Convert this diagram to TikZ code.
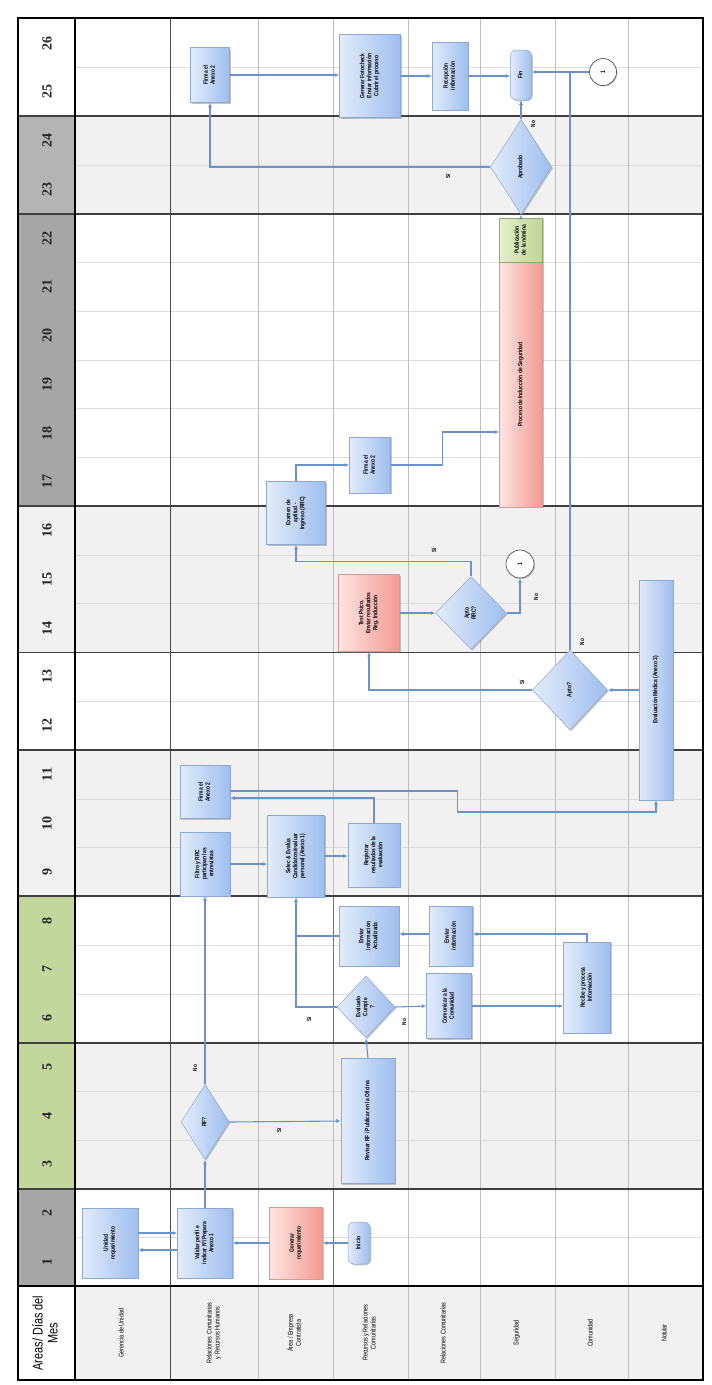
\documentclass[tikz,border=0pt]{standalone}
\usepackage{graphicx}
\usepackage{fontspec}
\setmainfont{Liberation Sans}
\newfontfamily\narrowfont[FakeStretch=0.78]{Liberation Sans}
\newfontfamily\numfont{Liberation Serif}
\usetikzlibrary{shapes.geometric,arrows.meta,shadows,calc}

\definecolor{bluel}{HTML}{E2ECFB}
\definecolor{blued}{HTML}{9FBEEE}
\definecolor{boxline}{HTML}{8EA9D1}
\definecolor{redl}{HTML}{FDE4E0}
\definecolor{redd}{HTML}{F29A93}
\definecolor{redline}{HTML}{D79A94}
\definecolor{grnl}{HTML}{E6F0CB}
\definecolor{grnd}{HTML}{BFD495}
\definecolor{grnline}{HTML}{93A86A}
\definecolor{linec}{HTML}{6B93C9}
\definecolor{bandgray}{HTML}{F1F1F1}
\definecolor{daygray}{HTML}{A6A6A6}
\definecolor{daygray2}{HTML}{B4B4B4}
\definecolor{daygreen}{HTML}{C3D69B}
\definecolor{gridc}{HTML}{DCDCDC}
\definecolor{lanec}{HTML}{BDBDBD}

% vertical (rotated) multi-line text
\newcommand{\vtxt}[1]{\rotatebox{90}{\begin{tabular}{@{}c@{}}#1\end{tabular}}}
% one band of days: header fill and lane fill
\newcommand{\dayband}[4]{%
  \fill[#3] (18,{1286.4-#2*48.76}) rectangle (75,{1286.4-#1*48.76});
  \fill[#4] (75,{1286.4-#2*48.76}) rectangle (703,{1286.4-#1*48.76});}

\tikzset{
  box/.style={draw=boxline, line width=0.5pt, left color=bluel, right color=blued,
    drop shadow={shadow xshift=1.3pt, shadow yshift=-1.3pt, fill=black!50, opacity=0.45},
    inner sep=1pt, font=\narrowfont\bfseries\fontsize{6.3}{7}\selectfont},
  redbox/.style={box, draw=redline, left color=redl, right color=redd},
  grnbox/.style={box, draw=grnline, left color=grnl, right color=grnd},
  dec/.style={diamond, box, aspect=1, inner sep=0pt},
  term/.style={box, rounded corners=6pt},
  conn/.style={circle, draw=black!75, line width=0.6pt, fill=white, inner sep=0pt,
    drop shadow={shadow xshift=1pt, shadow yshift=-1pt, fill=black!50, opacity=0.4},
    font=\narrowfont\bfseries\fontsize{6.5}{6.5}\selectfont},
  flow/.style={draw=linec, line width=1.1pt},
  arr/.style={flow, -{Latex[length=4.5pt,width=4pt]}},
  yn/.style={inner sep=0pt, font=\narrowfont\bfseries\fontsize{6}{6}\selectfont},
  lanelbl/.style={inner sep=0pt, font=\narrowfont\fontsize{7}{8}\selectfont},
  daynum/.style={inner sep=0pt, font=\numfont\bfseries\fontsize{14}{14}\selectfont, text=black!85},
}

\begin{document}
\begin{tikzpicture}[x=1pt,y=-1pt]
\useasboundingbox (0,0) rectangle (712,1385);
\fill[white] (0,0) rectangle (712,1385);

% ---- day bands ----
\dayband{0}{2}{daygray}{white}
\dayband{2}{5}{daygreen}{bandgray}
\dayband{5}{8}{daygreen}{white}
\dayband{8}{11}{bandgray}{bandgray}
\dayband{11}{13}{white}{white}
\dayband{13}{16}{bandgray}{bandgray}
\dayband{16}{22}{daygray}{white}
\dayband{22}{24}{daygray2}{bandgray}
\dayband{24}{26}{white}{white}

% header row with the areas
\fill[white] (18,1286.4) rectangle (75,1380);
\fill[bandgray] (75,1286.4) rectangle (703,1380);

% faint grid of days
\foreach \k in {1,...,25}
  \draw[gridc, line width=0.6pt] (75,{1286.4-\k*48.76}) -- (703,{1286.4-\k*48.76});

% lane separators
\foreach \xx in {258,333,408,480,555,628}
  \draw[lanec, line width=0.7pt] (\xx,18) -- (\xx,1380);
\draw[black!70, line width=1pt] (170,18) -- (170,1380);
\draw[black!55, line width=1pt] (333,1188.9) -- (333,1286.4);
\draw[black!55, line width=1pt] (333,896.3) -- (333,1042.6);

% group separators
\foreach \k in {2,5,8,11,13,16,22,24}
  \draw[black!75, line width=1.8pt] (18,{1286.4-\k*48.76}) -- (703,{1286.4-\k*48.76});
\draw[black, line width=2pt] (18,1286.4) -- (703,1286.4);
\draw[black, line width=1.6pt] (75,18) -- (75,1380);

% outer frame
\draw[black, line width=2.8pt] (18,18) rectangle (703,1380);

% ---- day numbers ----
\foreach \k in {1,...,26}
  \node[daynum] (d\k) at (47,{1262-(\k-1)*48.76}) {\rotatebox{90}{\k}};

% ---- area headers ----
\node[inner sep=0pt, font=\narrowfont\fontsize{14}{15}\selectfont] (hdr) at (47,1333)
  {\vtxt{Areas/ Días del\\Mes}};
\node[lanelbl] (l1) at (122,1333) {\vtxt{Gerencia de Unidad}};
\node[lanelbl] (l2) at (214,1333) {\vtxt{Relaciones Comunitarias\\y Recursos Humanos}};
\node[lanelbl] (l3) at (295,1333) {\vtxt{Área / Empresa\\Contratista}};
\node[lanelbl] (l4) at (370,1333) {\vtxt{Recursos y Relaciones\\Comunitarias}};
\node[lanelbl] (l5) at (444,1333) {\vtxt{Relaciones Comunitarias}};
\node[lanelbl] (l6) at (517,1333) {\vtxt{Seguridad}};
\node[lanelbl] (l7) at (591,1333) {\vtxt{Comunidad}};
\node[lanelbl] (l8) at (665,1333) {\vtxt{Notular}};

% ---- days 1-2 ----
\node[box, minimum width=56pt, minimum height=70pt] (req) at (110,1243) {\vtxt{Unidad\\requerimiento}};
\node[box, minimum width=55pt, minimum height=70pt] (val) at (205,1243) {\vtxt{Validar perfil e\\indicar N°/Prepara\\Anexo 1}};
\node[redbox, minimum width=53pt, minimum height=72pt] (gen) at (296,1243) {\vtxt{Generar\\requerimiento}};
\node[term, minimum width=22pt, minimum height=42pt] (inicio) at (359,1243) {\vtxt{Inicio}};

% ---- days 3-5 ----
\node[dec, minimum width=48pt, minimum height=75pt] (rf) at (205,1122) {\vtxt{RF?}};
\node[box, minimum width=54pt, minimum height=125pt] (revisar) at (368,1121) {\vtxt{Revisar RF / Publicar en la Oficina}};

% ---- days 6-8 ----
\node[dec, minimum width=58pt, minimum height=62pt] (cumple) at (366,1007) {\vtxt{Evaluado\\Cumple\\?}};
\node[box, minimum width=45pt, minimum height=65pt] (comunicar) at (449,1006) {\vtxt{Comunicar a la\\Comunidad}};
\node[box, minimum width=47pt, minimum height=91pt] (recibe) at (587,987.5) {\vtxt{Recibe y procesa\\Información}};
\node[box, minimum width=43pt, minimum height=60pt] (enviar) at (451,936) {\vtxt{Enviar\\información}};
\node[box, minimum width=60pt, minimum height=60pt] (enviarAct) at (369,936) {\vtxt{Enviar\\información\\Actualizada}};

% ---- days 9-11 ----
\node[box, minimum width=50pt, minimum height=64pt] (filtro) at (205,864) {\vtxt{Filtro y RRC\\participan las\\entrevistas}};
\node[box, minimum width=57pt, minimum height=82pt] (sel) at (296,856) {\vtxt{Selec \& Evalúa\\Candidatos/evaluar\\personal (Anexo 1)}};
\node[box, minimum width=52pt, minimum height=64pt] (reg) at (374,855) {\vtxt{Registrar\\resultados de la\\evaluación}};
\node[box, minimum width=50pt, minimum height=53pt] (firma1) at (205,792) {\vtxt{Firma el\\Anexo 2}};

% ---- days 12-16 ----
\node[box, minimum width=34pt, minimum height=220pt] (eval) at (656,690) {\vtxt{Evaluación Médica (Anexo 3)}};
\node[dec, minimum width=75pt, minimum height=80pt] (apto) at (570,690) {\vtxt{Apto?}};
\node[redbox, minimum width=61pt, minimum height=77pt] (test) at (369,613) {\vtxt{Test Psico.\\Enviar resultados\\Reg. Inducción}};
\node[dec, minimum width=71pt, minimum height=73pt] (aptoRRC) at (471,613) {\vtxt{Apto\\RRC?}};
\node[conn, minimum size=28pt] (c1a) at (520,564) {\rotatebox{90}{1}};
\node[box, minimum width=59pt, minimum height=63pt] (examen) at (296,513) {\vtxt{Examen de\\aptitud -\\Ingreso (RRC)}};

% ---- days 17-22 ----
\node[box, minimum width=41pt, minimum height=56pt] (firma2) at (370,465) {\vtxt{Firma el\\Anexo 2}};
\node[redbox, minimum width=43pt, minimum height=245pt] (induccion) at (521,384.5) {\vtxt{Proceso de Inducción de Seguridad}};
\node[grnbox, minimum width=43pt, minimum height=44pt] (pub) at (521,240) {\vtxt{Publicación\\de la nómina}};

% ---- days 23-26 ----
\node[dec, minimum width=61pt, minimum height=95pt] (aprob) at (521,167) {\vtxt{Aprobado}};
\node[box, minimum width=39pt, minimum height=55pt] (firma3) at (210,75) {\vtxt{Firma el\\Anexo 2}};
\node[box, minimum width=61pt, minimum height=83pt] (genfot) at (370,76) {\vtxt{Generar Fotocheck\\Enviar información\\Cubrir el proceso}};
\node[box, minimum width=36pt, minimum height=68pt] (recep) at (450,76) {\vtxt{Recepción\\información}};
\node[term, minimum width=21pt, minimum height=50pt] (fin) at (521,75) {\vtxt{Fin}};
\node[conn, minimum size=27pt] (c1b) at (603,72) {\rotatebox{90}{1}};

% ---- connectors ----
\draw[arr] (inicio.west) -- (gen.east);
\draw[arr] (gen.west) -- (val.east);
\draw[arr] ($(req.east)+(0,-10)$) -- ($(val.west)+(0,-10)$);
\draw[arr] ($(val.west)+(0,7)$) -- ($(req.east)+(0,7)$);
\draw[arr] (val.north) -- (rf.south);
\draw[arr] (rf.east) -- (revisar.west);
\draw[arr] (rf.north) -- (filtro.south);
\draw[arr] (revisar.north) -- (cumple.south);
\draw[arr] (cumple.east) -- (comunicar.west);
\draw[arr] (comunicar.east) -- (recibe.west |- comunicar.east);
\draw[arr] (recibe.north) |- ($(enviar.east)+(0,-2)$);
\draw[arr] ($(enviar.west)+(0,-2)$) -- ($(enviarAct.east)+(0,-2)$);
\coordinate (jn) at (sel.south |- enviarAct.west);
\draw[flow] (enviarAct.west) -- (jn);
\draw[arr] (cumple.west) -| (sel.south);
\draw[arr] (filtro.east) -- (sel.west |- filtro.east);
\draw[arr] (sel.east) -- (reg.west |- sel.east);
\draw[arr] (reg.north) |- ($(firma1.east)+(0,6)$);
\draw[arr] ($(firma1.east)+(0,-1)$) -- ++(227,0) -- ++(0,21) -| (eval.south);
\draw[arr] (eval.west) -- (apto.east);
\draw[arr] (apto.west) -| (test.south);
\draw[flow] (apto.north) -- (apto.north |- c1b.west);
\draw[arr] (test.east) -- (aptoRRC.west);
\draw[arr] (aptoRRC.north) -- ++(0,-15) -| (examen.south);
\draw[arr] (aptoRRC.east) -| (c1a.south);
\draw[arr] (examen.north) |- (firma2.west);
\path (induccion.west) ++(0,47.5) coordinate (indIn);
\draw[arr] (firma2.east) -- ++(52,0) |- (indIn);
\draw[arr] (pub.north) -- (aprob.south);
\draw[arr] (aprob.west) -| (firma3.south);
\draw[arr] (aprob.north) -- (fin.south);
\draw[arr] (firma3.east) -- (genfot.west |- firma3.east);
\draw[arr] (genfot.east) -- (recep.west |- genfot.east);
\draw[arr] (recep.east) -- (fin.west |- recep.east);
\draw[arr] (c1b.west) -- (fin.east |- c1b.west);

% ---- decision labels ----
\node[yn] (s1) at (279,1130) {\rotatebox{90}{Sí}};
\node[yn] (n1) at (195,1068) {\rotatebox{90}{No}};
\node[yn] (s2) at (309,1019) {\rotatebox{90}{Sí}};
\node[yn] (n2) at (404,1022) {\rotatebox{90}{No}};
\node[yn] (s3) at (522,682) {\rotatebox{90}{Sí}};
\node[yn] (n3) at (582,642) {\rotatebox{90}{No}};
\node[yn] (s4) at (434,550) {\rotatebox{90}{Sí}};
\node[yn] (n4) at (536,597) {\rotatebox{90}{No}};
\node[yn] (s5) at (448,176) {\rotatebox{90}{Sí}};
\node[yn] (n5) at (533,124) {\rotatebox{90}{No}};
\end{tikzpicture}
\end{document}
